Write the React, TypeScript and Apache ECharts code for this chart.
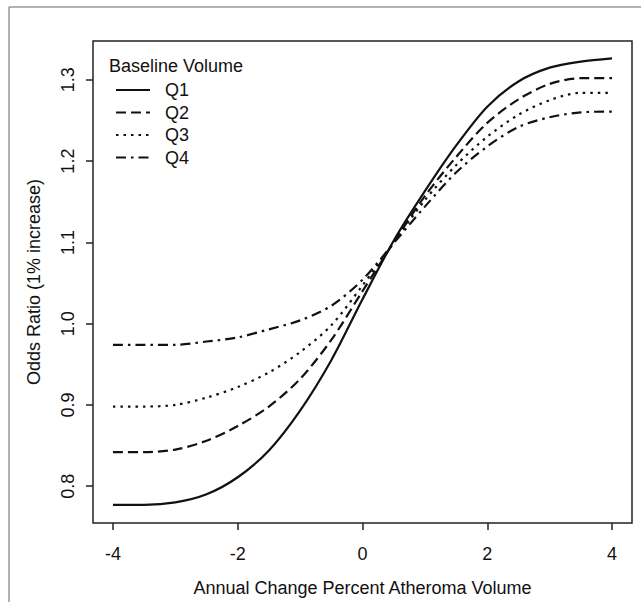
import React, { useEffect, useRef } from "react";
import * as echarts from "echarts";

const xs = [-4, -3.5, -3, -2.5, -2, -1.5, -1, -0.5, 0, 0.5, 1, 1.5, 2, 2.5, 3, 3.5, 4];
const q1 = [0.777, 0.777, 0.78, 0.79, 0.811, 0.844, 0.893, 0.955, 1.03, 1.102, 1.163, 1.219, 1.267, 1.298, 1.315, 1.3225, 1.3265];
const q2 = [0.842, 0.842, 0.845, 0.856, 0.874, 0.898, 0.932, 0.98, 1.04, 1.1, 1.157, 1.205, 1.247, 1.276, 1.295, 1.302, 1.302];
const q3 = [0.898, 0.898, 0.9, 0.909, 0.922, 0.94, 0.965, 0.998, 1.047, 1.1, 1.152, 1.195, 1.23, 1.257, 1.275, 1.284, 1.284];
const q4 = [0.974, 0.974, 0.974, 0.978, 0.983, 0.993, 1.004, 1.022, 1.054, 1.099, 1.144, 1.186, 1.218, 1.242, 1.254, 1.26, 1.261];
const seriesNames = ["Q1", "Q2", "Q3", "Q4"];
const xTicks = [-4, -2, 0, 2, 4];
const yTicks = [0.8, 0.9, 1.0, 1.1, 1.2, 1.3];

const FONT = "Liberation Sans, Arial, sans-serif";

export default function App() {
  const ref = useRef<HTMLDivElement>(null);
  useEffect(() => {
    document.body.style.margin = "0";
    if (!ref.current) return;
    const chart = echarts.init(ref.current, undefined, { renderer: "svg" });
    const values = [q1, q2, q3, q4];
    const dashes: any[] = ["solid", [10, 5], [2.5, 5], [10, 5, 2.5, 5]];
    chart.setOption({
      animation: false,
      backgroundColor: "#fff",
      title: {
        text: "Baseline Volume",
        left: 109,
        top: 57,
        padding: 0,
        textStyle: { fontFamily: FONT, fontSize: 18, fontWeight: "normal", color: "#111", lineHeight: 18 },
      },
      legend: {
        orient: "vertical",
        left: 110,
        top: 76,
        itemWidth: 34,
        itemHeight: 14,
        itemGap: 4.5,
        itemStyle: { opacity: 0 },
        textStyle: { fontFamily: FONT, fontSize: 18, color: "#111", lineHeight: 18, padding: [0, 0, 0, 10] },
        data: seriesNames,
      },
      grid: {
        left: 93,
        top: 41,
        right: 9,
        bottom: 77,
        show: true,
        borderColor: "#222",
        borderWidth: 1.5,
        backgroundColor: "#fff",
      },
      graphic: [
        { type: "line", shape: { x1: 9, y1: 7, x2: 641, y2: 7 }, style: { stroke: "#999", lineWidth: 1.5 } },
        { type: "line", shape: { x1: 9, y1: 7, x2: 9, y2: 602 }, style: { stroke: "#999", lineWidth: 1.5 } },
      ],
      xAxis: {
        type: "value",
        min: -4.32,
        max: 4.32,
        name: "Annual Change Percent Atheroma Volume",
        nameLocation: "middle",
        nameGap: 56,
        nameTextStyle: { fontFamily: FONT, fontSize: 18, color: "#111" },
        axisLine: { show: false, onZero: false },
        splitLine: { show: false },
        axisTick: { show: true, length: 7, inside: false, customValues: xTicks, lineStyle: { color: "#222", width: 1.5 } },
        axisLabel: {
          customValues: xTicks,
          margin: 22,
          fontFamily: FONT,
          fontSize: 18,
          color: "#111",
          formatter: (v: number) => String(v),
        },
      },
      yAxis: {
        type: "value",
        min: 0.7547,
        max: 1.3478,
        name: "Odds Ratio (1% increase)",
        nameLocation: "middle",
        nameGap: 50,
        nameTextStyle: { fontFamily: FONT, fontSize: 18, color: "#111" },
        axisLine: { show: false, onZero: false },
        splitLine: { show: false },
        axisTick: { show: true, length: 7, inside: false, customValues: yTicks, lineStyle: { color: "#222", width: 1.5 } },
        axisLabel: {
          customValues: yTicks,
          rotate: 90,
          margin: 16,
          fontFamily: FONT,
          fontSize: 18,
          color: "#111",
          formatter: (v: number) => v.toFixed(1),
        },
      },
      series: seriesNames.map((name, i) => ({
        name,
        type: "line",
        showSymbol: false,
        symbol: "none",
        smooth: 0.3,
        data: xs.map((x, j) => [x, values[i][j]]),
        lineStyle: { color: "#111", width: 2.2, type: dashes[i] },
        itemStyle: { color: "#111" },
      })),
    });
    return () => chart.dispose();
  }, []);
  return <div ref={ref} style={{ width: 641, height: 602 }} />;
}
